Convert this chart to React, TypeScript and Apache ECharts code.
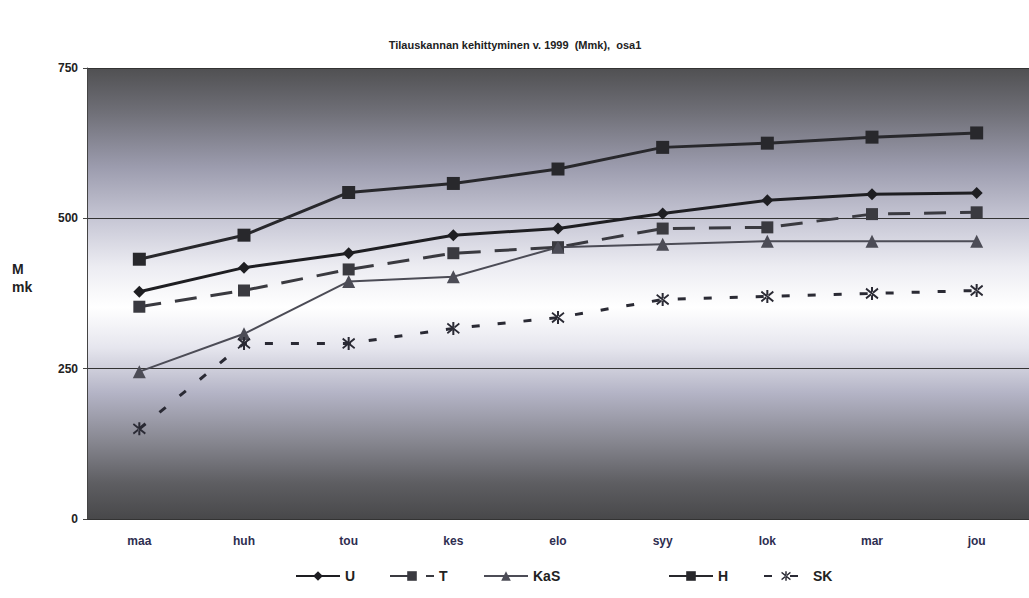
import React, { useEffect, useRef } from "react";
import * as echarts from "echarts";

const categories = ["maa", "huh", "tou", "kes", "elo", "syy", "lok", "mar", "jou"];
const seriesU = [378, 418, 442, 472, 483, 508, 530, 540, 542];
const seriesT = [353, 380, 415, 442, 452, 483, 485, 507, 510];
const seriesKaS = [245, 308, 395, 403, 452, 457, 462, 462, 462];
const seriesH = [432, 472, 543, 558, 582, 618, 625, 635, 642];
const seriesSK = [150, 292, 292, 317, 335, 365, 370, 375, 380];
const legendNames = ["U", "T", "KaS", "H", "SK"];
const legendLefts = [290, 384, 478, 663, 758];

const asterisk =
  "path://M-0.9,-6 L0.9,-6 L0.9,6 L-0.9,6 Z M-5.8,-3.7 L-4.9,-5.2 L5.8,3.7 L4.9,5.2 Z M-5.8,3.7 L-4.9,5.2 L5.8,-3.7 L4.9,-5.2 Z";

export default function App() {
  const ref = useRef<HTMLDivElement>(null);
  useEffect(() => {
    if (!ref.current) return;
    const chart = echarts.init(ref.current, null, { renderer: "svg" });
    const font = "Liberation Sans, Arial, sans-serif";
    chart.setOption({
      animation: false,
      backgroundColor: "#ffffff",
      title: {
        text: "Tilauskannan kehittyminen v. 1999  (Mmk),  osa1",
        left: 510,
        textAlign: "center",
        top: 34,
        textStyle: { fontFamily: font, fontSize: 11, fontWeight: "bold", color: "#222" },
      },
      graphic: [
        {
          type: "text",
          left: 12,
          top: 260,
          style: { text: "M\nmk", font: "bold 14px Liberation Sans, Arial, sans-serif", fill: "#222", lineHeight: 18 },
        },
      ],
      grid: {
        left: 87,
        top: 68,
        width: 958,
        height: 451,
        show: true,
        borderWidth: 0,
        backgroundColor: new echarts.graphic.LinearGradient(0, 0, 0, 1, [
          { offset: 0, color: "#505052" },
          { offset: 0.1, color: "#707078" },
          { offset: 0.22, color: "#9c9cae" },
          { offset: 0.34, color: "#c8c8d6" },
          { offset: 0.44, color: "#ececf2" },
          { offset: 0.53, color: "#ffffff" },
          { offset: 0.62, color: "#e6e6ee" },
          { offset: 0.72, color: "#b4b4c6" },
          { offset: 0.83, color: "#86868f" },
          { offset: 0.92, color: "#5e5e62" },
          { offset: 1, color: "#48484a" },
        ]),
      },
      legend: legendNames.map((n, i) => ({
        bottom: 10,
        left: legendLefts[i],
        itemWidth: 44,
        itemHeight: 12,
        textStyle: { fontFamily: font, fontSize: 14, fontWeight: "bold", color: "#222" },
        data: [n],
      })),
      xAxis: {
        type: "category",
        data: categories,
        boundaryGap: true,
        axisLine: { show: false },
        axisTick: { show: false },
        axisLabel: { fontFamily: font, fontSize: 12, fontWeight: "bold", color: "#2e2e50", margin: 16 },
      },
      yAxis: {
        type: "value",
        min: 0,
        max: 750,
        interval: 250,
        axisLine: { show: true, lineStyle: { color: "#444", width: 1 } },
        axisTick: { show: true, length: 4, lineStyle: { color: "#444" } },
        axisLabel: { fontFamily: font, fontSize: 12, fontWeight: "bold", color: "#222", margin: 9 },
        splitLine: { show: true, lineStyle: { color: "#333", width: 1 } },
      },
      series: [
        {
          name: "U",
          type: "line",
          data: seriesU,
          symbol: "diamond",
          symbolSize: 12,
          itemStyle: { color: "#1e1e22" },
          lineStyle: { color: "#1e1e22", width: 3 },
        },
        {
          name: "T",
          type: "line",
          data: seriesT,
          symbol: "rect",
          symbolSize: 12,
          itemStyle: { color: "#3a3a40" },
          lineStyle: { color: "#3a3a40", width: 3, type: [22, 14] },
        },
        {
          name: "KaS",
          type: "line",
          data: seriesKaS,
          symbol: "triangle",
          symbolSize: 13,
          itemStyle: { color: "#4c4c56" },
          lineStyle: { color: "#4c4c56", width: 2 },
        },
        {
          name: "H",
          type: "line",
          data: seriesH,
          symbol: "rect",
          symbolSize: 13,
          itemStyle: { color: "#28282c" },
          lineStyle: { color: "#28282c", width: 3 },
        },
        {
          name: "SK",
          type: "line",
          data: seriesSK,
          symbol: asterisk,
          symbolSize: 13,
          itemStyle: { color: "#2a2a34" },
          lineStyle: { color: "#2a2a34", width: 3, type: [8, 18] },
        },
      ],
    });
    return () => chart.dispose();
  }, []);
  return <div ref={ref} style={{ width: 1029, height: 598, position: "fixed", left: 0, top: 0 }} />;
}
